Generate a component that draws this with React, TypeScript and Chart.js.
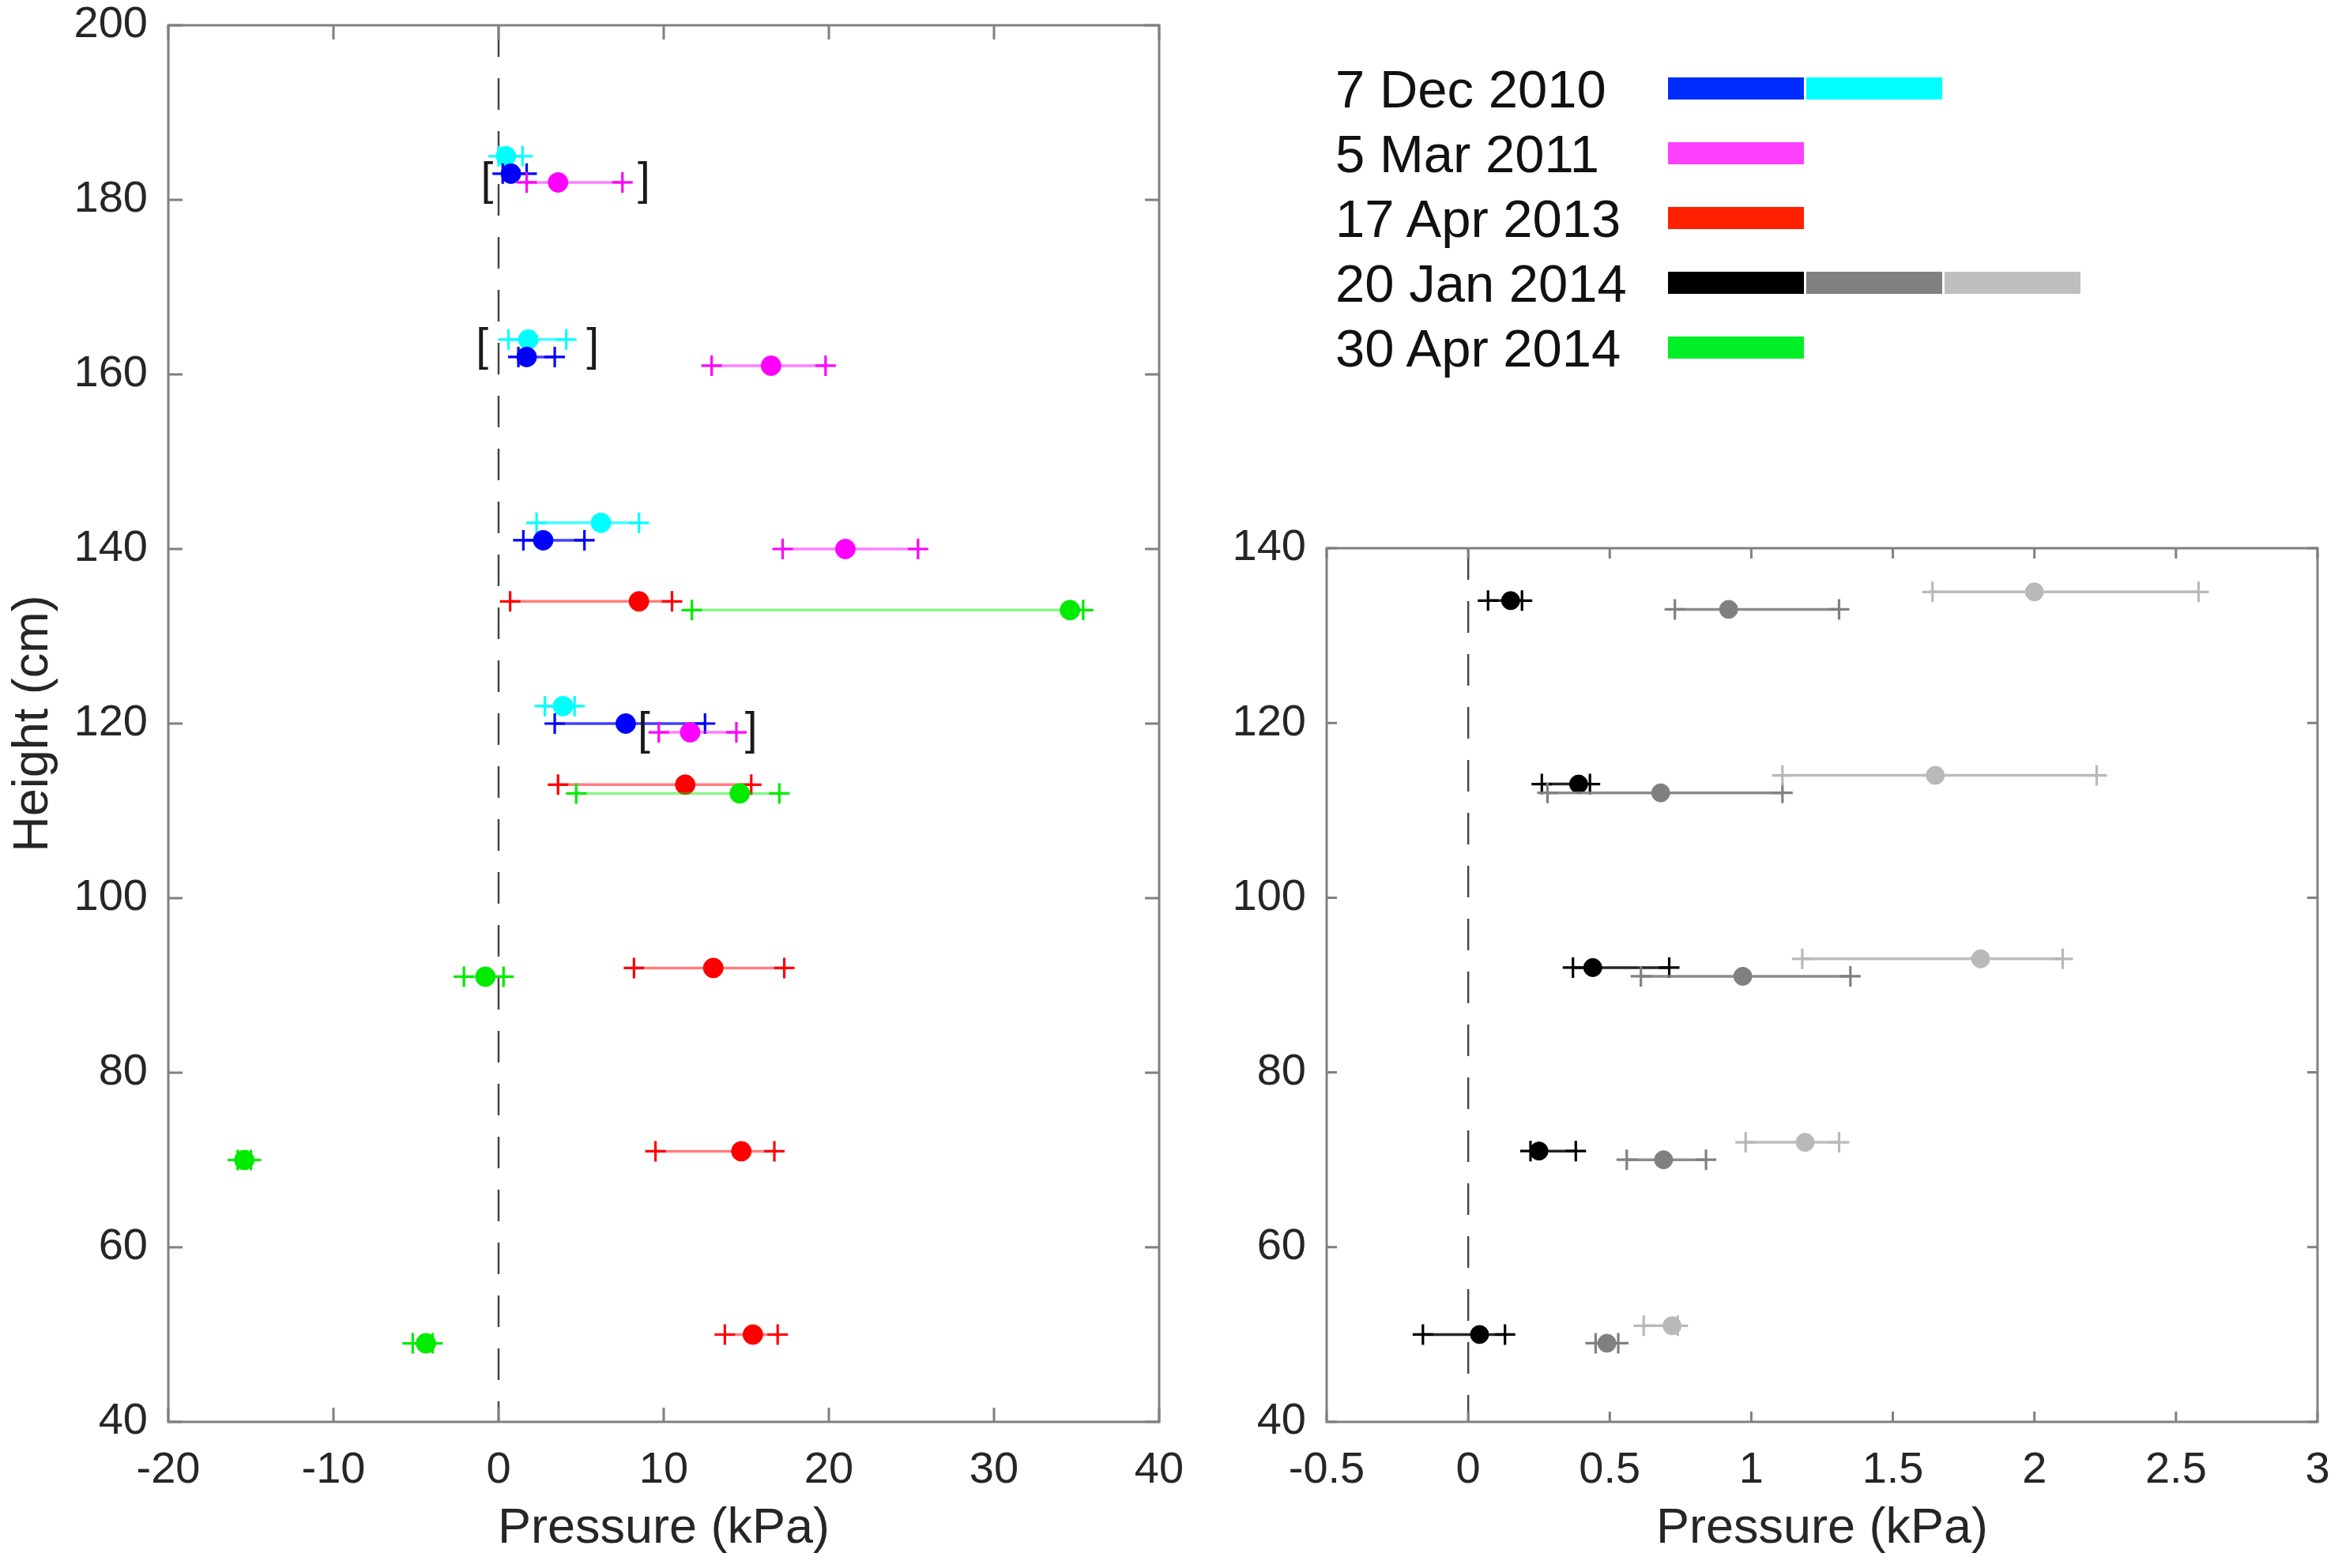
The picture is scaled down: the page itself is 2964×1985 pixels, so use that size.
import React, { useEffect, useRef } from "react";
import { Chart, registerables } from "chart.js";

Chart.register(...registerables);

const FONT = '"Liberation Sans", Arial, Helvetica, sans-serif';

// ---------- Left panel (kPa vs cm) ----------
const leftXTicks = [-20, -10, 0, 10, 20, 30, 40];
const leftYTicks = [40, 60, 80, 100, 120, 140, 160, 180, 200];

// 7 Dec 2010, first sensor (blue)
const dec2010aHeights = [183, 162, 141, 120];
const dec2010aMean = [0.75, 1.7, 2.7, 7.7];
const dec2010aLow = [0.25, 1.2, 1.5, 3.4];
const dec2010aHigh = [1.7, 3.4, 5.2, 12.5];

// 7 Dec 2010, second sensor (cyan)
const dec2010bHeights = [185, 164, 143, 122];
const dec2010bMean = [0.45, 1.8, 6.2, 3.9];
const dec2010bLow = [0.0, 0.6, 2.3, 2.8];
const dec2010bHigh = [1.45, 4.1, 8.5, 4.6];

// 5 Mar 2011 (magenta)
const mar2011Heights = [182, 161, 140, 119];
const mar2011Mean = [3.6, 16.5, 21.0, 11.6];
const mar2011Low = [1.7, 12.9, 17.2, 9.7];
const mar2011High = [7.5, 19.8, 25.4, 14.4];

// 17 Apr 2013 (red)
const apr2013Heights = [134, 113, 92, 71, 50];
const apr2013Mean = [8.5, 11.3, 13.0, 14.7, 15.4];
const apr2013Low = [0.7, 3.6, 8.2, 9.5, 13.7];
const apr2013High = [10.5, 15.3, 17.3, 16.7, 16.9];

// 30 Apr 2014 (green)
const apr2014Heights = [133, 112, 91, 70, 49];
const apr2014Mean = [34.6, 14.6, -0.8, -15.4, -4.4];
const apr2014Low = [11.7, 4.7, -2.1, -15.8, -5.2];
const apr2014High = [35.4, 17.0, 0.3, -15.0, -4.0];

// bracket annotations (left panel)
const bracketHeights = [182, 163, 119];
const bracketLeft = [-0.7, -1.0, 8.8];
const bracketRight = [8.8, 5.7, 15.3];

// ---------- Right panel: 20 Jan 2014 ----------
const rightXTicks = [-0.5, 0, 0.5, 1, 1.5, 2, 2.5, 3];
const rightYTicks = [40, 60, 80, 100, 120, 140];

const jan2014aHeights = [134, 113, 92, 71, 50];
const jan2014aMean = [0.15, 0.39, 0.44, 0.25, 0.04];
const jan2014aLow = [0.07, 0.26, 0.37, 0.22, -0.16];
const jan2014aHigh = [0.19, 0.43, 0.71, 0.38, 0.13];

const jan2014bHeights = [133, 112, 91, 70, 49];
const jan2014bMean = [0.92, 0.68, 0.97, 0.69, 0.49];
const jan2014bLow = [0.73, 0.28, 0.61, 0.56, 0.45];
const jan2014bHigh = [1.31, 1.11, 1.35, 0.84, 0.53];

const jan2014cHeights = [135, 114, 93, 72, 51];
const jan2014cMean = [2.0, 1.65, 1.81, 1.19, 0.72];
const jan2014cLow = [1.64, 1.11, 1.18, 0.98, 0.62];
const jan2014cHigh = [2.58, 2.22, 2.1, 1.31, 0.74];

// ---------- Legend ----------
const legendLabels = ["7 Dec 2010", "5 Mar 2011", "17 Apr 2013", "20 Jan 2014", "30 Apr 2014"];
const legendSwatches = [
  ["rgb(0,45,255)", "rgb(0,255,255)"],
  ["rgb(255,64,255)"],
  ["rgb(255,32,0)"],
  ["rgb(0,0,0)", "rgb(128,128,128)", "rgb(190,190,190)"],
  ["rgb(0,240,40)"],
];

const TEXT = "#262626";
const AXIS = "rgb(128,128,128)";

function buildSeries(
  heights: number[],
  mean: number[],
  low: number[],
  high: number[],
  color: string,
  lineColor: string,
  dotR: number,
  crossR: number,
  k: number
) {
  const segs: any[] = [];
  const crosses: any[] = [];
  heights.forEach((h, i) => {
    segs.push({ x: low[i], y: h }, { x: high[i], y: h }, { x: NaN, y: NaN });
    crosses.push({ x: low[i], y: h }, { x: high[i], y: h });
  });
  const dots = heights.map((h, i) => ({ x: mean[i], y: h }));
  return [
    {
      data: segs,
      showLine: true,
      spanGaps: false,
      borderColor: lineColor,
      borderWidth: 3.5,
      pointRadius: 0,
      pointHoverRadius: 0,
      fill: false,
      order: -(3 * k),
    },
    {
      data: crosses,
      showLine: false,
      pointStyle: "cross",
      pointRadius: crossR,
      pointHoverRadius: crossR,
      borderColor: color,
      backgroundColor: color,
      pointBorderWidth: 3.2,
      borderWidth: 3.2,
      order: -(3 * k + 1),
    },
    {
      data: dots,
      showLine: false,
      pointStyle: "circle",
      pointRadius: dotR,
      pointHoverRadius: dotR,
      borderColor: color,
      backgroundColor: color,
      borderWidth: 1,
      order: -(3 * k + 2),
    },
  ];
}

function framePlugin(tickLen: number, brackets: boolean) {
  return {
    id: "frame",
    beforeDatasetsDraw(chart: any) {
      const { ctx, chartArea } = chart;
      const xs = chart.scales.x;
      const x0 = xs.getPixelForValue(0);
      ctx.save();
      ctx.strokeStyle = "rgb(70,70,70)";
      ctx.lineWidth = 2.5;
      ctx.setLineDash([40, 27]);
      ctx.beginPath();
      ctx.moveTo(x0, chartArea.top);
      ctx.lineTo(x0, chartArea.bottom);
      ctx.stroke();
      ctx.restore();
    },
    afterDatasetsDraw(chart: any) {
      const { ctx, chartArea } = chart;
      const xs = chart.scales.x;
      const ys = chart.scales.y;
      const { left, right, top, bottom } = chartArea;
      ctx.save();
      ctx.strokeStyle = AXIS;
      ctx.lineWidth = 3;
      ctx.setLineDash([]);
      ctx.beginPath();
      xs.ticks.forEach((t: any) => {
        const p = xs.getPixelForValue(t.value);
        ctx.moveTo(p, bottom);
        ctx.lineTo(p, bottom - tickLen);
        ctx.moveTo(p, top);
        ctx.lineTo(p, top + tickLen);
      });
      ys.ticks.forEach((t: any) => {
        const p = ys.getPixelForValue(t.value);
        ctx.moveTo(left, p);
        ctx.lineTo(left + tickLen, p);
        ctx.moveTo(right, p);
        ctx.lineTo(right - tickLen, p);
      });
      ctx.stroke();
      ctx.strokeRect(left, top, right - left, bottom - top);
      if (brackets) {
        ctx.fillStyle = "#1a1a1a";
        ctx.font = `57px ${FONT}`;
        ctx.textAlign = "center";
        ctx.textBaseline = "alphabetic";
        bracketHeights.forEach((h, i) => {
          const y = ys.getPixelForValue(h) + 15;
          ctx.fillText("[", xs.getPixelForValue(bracketLeft[i]), y);
          ctx.fillText("]", xs.getPixelForValue(bracketRight[i]), y);
        });
      }
      ctx.restore();
    },
  };
}

function axisOptions(
  xMin: number,
  xMax: number,
  xTicks: number[],
  yMin: number,
  yMax: number,
  yTicks: number[],
  yWidth: number,
  yTitle: string | null
) {
  return {
    x: {
      type: "linear",
      position: "bottom",
      min: xMin,
      max: xMax,
      afterBuildTicks: (s: any) => {
        s.ticks = xTicks.map((v) => ({ value: v }));
      },
      ticks: {
        font: { family: FONT, size: 56, lineHeight: 1.2 },
        color: TEXT,
        padding: 28,
        maxRotation: 0,
        autoSkip: false,
        callback: (v: any) => String(v),
      },
      grid: { display: false, drawTicks: false },
      border: { display: false },
      title: {
        display: true,
        text: "Pressure (kPa)",
        color: TEXT,
        font: { family: FONT, size: 63, lineHeight: 1.2 },
        padding: { top: 0, bottom: 12 },
      },
      afterFit: (s: any) => {
        s.height = 185;
        s.paddingLeft = 0;
        s.paddingRight = 0;
      },
    },
    y: {
      type: "linear",
      min: yMin,
      max: yMax,
      afterBuildTicks: (s: any) => {
        s.ticks = yTicks.map((v) => ({ value: v }));
      },
      ticks: {
        font: { family: FONT, size: 56, lineHeight: 1 },
        color: TEXT,
        padding: 26,
        autoSkip: false,
        callback: (v: any) => String(v),
      },
      grid: { display: false, drawTicks: false },
      border: { display: false },
      title: {
        display: !!yTitle,
        text: yTitle || "",
        color: TEXT,
        font: { family: FONT, size: 63, lineHeight: 1.2 },
        padding: { top: 5, bottom: 0 },
      },
      afterFit: (s: any) => {
        s.width = yWidth;
        s.paddingTop = 0;
        s.paddingBottom = 0;
      },
    },
  };
}

function useChart(ref: React.RefObject<HTMLCanvasElement>, makeConfig: () => any) {
  useEffect(() => {
    if (!ref.current) return;
    const chart = new Chart(ref.current, makeConfig());
    return () => chart.destroy();
  }, []);
}

export default function App() {
  const leftRef = useRef<HTMLCanvasElement>(null);
  const rightRef = useRef<HTMLCanvasElement>(null);

  useChart(leftRef, () => ({
    type: "scatter",
    data: {
      datasets: [
        ...buildSeries(dec2010bHeights, dec2010bMean, dec2010bLow, dec2010bHigh, "rgb(0,255,255)", "rgba(0,255,255,0.75)", 12.5, 13, 0),
        ...buildSeries(dec2010aHeights, dec2010aMean, dec2010aLow, dec2010aHigh, "rgb(0,0,255)", "rgba(0,0,255,0.75)", 12.5, 13, 1),
        ...buildSeries(mar2011Heights, mar2011Mean, mar2011Low, mar2011High, "rgb(255,0,255)", "rgba(255,0,255,0.5)", 12.5, 13, 2),
        ...buildSeries(apr2013Heights, apr2013Mean, apr2013Low, apr2013High, "rgb(255,0,0)", "rgba(255,0,0,0.5)", 12.5, 13, 3),
        ...buildSeries(apr2014Heights, apr2014Mean, apr2014Low, apr2014High, "rgb(0,235,0)", "rgba(0,235,0,0.45)", 12.5, 13, 4),
      ],
    },
    options: {
      responsive: false,
      animation: false,
      devicePixelRatio: 1,
      layout: { padding: { left: 0, top: 32, right: 33, bottom: 0 } },
      plugins: { legend: { display: false }, tooltip: { enabled: false } },
      events: [],
      scales: axisOptions(-20, 40, leftXTicks, 40, 200, leftYTicks, 213, "Height (cm)"),
    },
    plugins: [framePlugin(18, true)],
  }));

  useChart(rightRef, () => ({
    type: "scatter",
    data: {
      datasets: [
        ...buildSeries(jan2014aHeights, jan2014aMean, jan2014aLow, jan2014aHigh, "rgb(0,0,0)", "rgba(0,0,0,0.85)", 11.5, 13, 0),
        ...buildSeries(jan2014bHeights, jan2014bMean, jan2014bLow, jan2014bHigh, "rgb(128,128,128)", "rgba(128,128,128,0.9)", 11.5, 13, 1),
        ...buildSeries(jan2014cHeights, jan2014cMean, jan2014cLow, jan2014cHigh, "rgb(185,185,185)", "rgba(185,185,185,0.95)", 11.5, 13, 2),
      ],
    },
    options: {
      responsive: false,
      animation: false,
      devicePixelRatio: 1,
      layout: { padding: { left: 0, top: 694, right: 31, bottom: 0 } },
      plugins: { legend: { display: false }, tooltip: { enabled: false } },
      events: [],
      scales: axisOptions(-0.5, 3, rightXTicks, 40, 140, rightYTicks, 179, null),
    },
    plugins: [framePlugin(13, false)],
  }));

  const rowTop = 112;
  const rowStep = 82;
  const barLeft = 2111;
  const barW = 172;
  const barGap = 3;
  const barH = 28;

  return (
    <div
      style={{
        position: "absolute",
        left: 0,
        top: 0,
        width: 2964,
        height: 1985,
        background: "#fff",
        overflow: "hidden",
        fontFamily: FONT,
      }}
    >
      <div style={{ position: "absolute", left: 0, top: 0, width: 1500, height: 1985 }}>
        <canvas ref={leftRef} width={1500} height={1985} style={{ width: 1500, height: 1985, display: "block" }} />
      </div>
      <div style={{ position: "absolute", left: 1500, top: 0, width: 1464, height: 1985 }}>
        <canvas ref={rightRef} width={1464} height={1985} style={{ width: 1464, height: 1985, display: "block" }} />
      </div>
      {legendLabels.map((label, i) => {
        const cy = rowTop + i * rowStep;
        return (
          <React.Fragment key={label}>
            <div
              style={{
                position: "absolute",
                left: 1690,
                top: cy - 41,
                height: 82,
                display: "flex",
                alignItems: "center",
                fontSize: 67,
                lineHeight: 1,
                color: "#111",
                whiteSpace: "nowrap",
              }}
            >
              {label}
            </div>
            {legendSwatches[i].map((c, j) => (
              <div
                key={j}
                style={{
                  position: "absolute",
                  left: barLeft + j * (barW + barGap),
                  top: cy - barH / 2,
                  width: barW,
                  height: barH,
                  background: c,
                }}
              />
            ))}
          </React.Fragment>
        );
      })}
    </div>
  );
}
